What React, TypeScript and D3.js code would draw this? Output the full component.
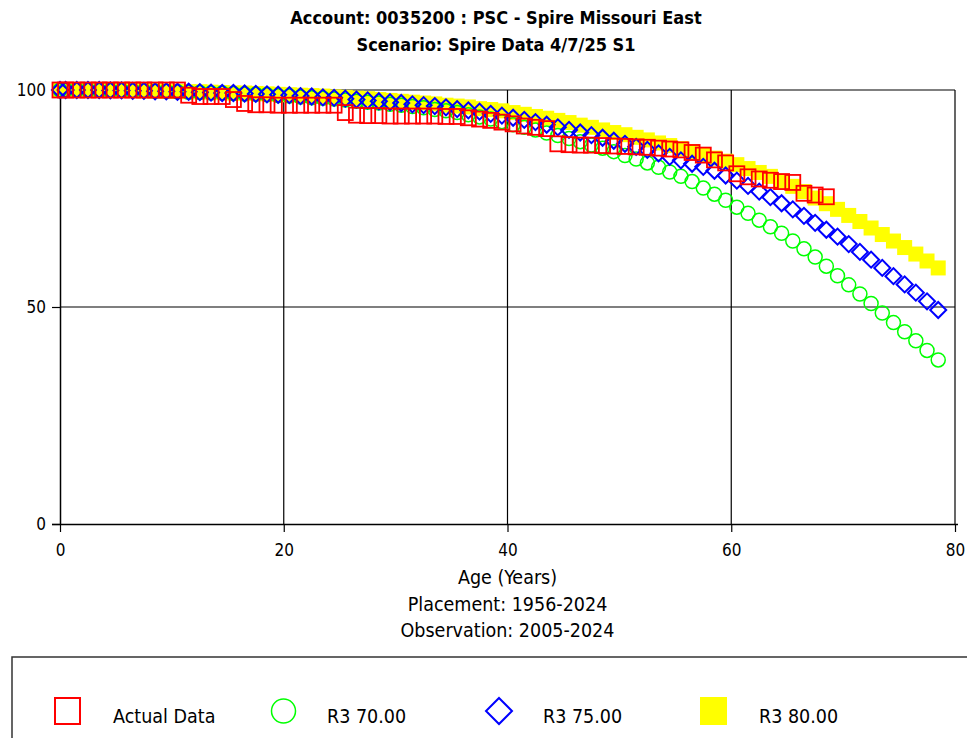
import React from 'react';
import * as d3 from 'd3';

const curveAges = [0, 0.5, 1.5, 2.5, 3.5, 4.5, 5.5, 6.5, 7.5, 8.5, 9.5, 10.5, 11.5, 12.5, 13.5, 14.5, 15.5, 16.5, 17.5, 18.5, 19.5,
  20.5, 21.5, 22.5, 23.5, 24.5, 25.5, 26.5, 27.5, 28.5, 29.5, 30.5, 31.5, 32.5, 33.5, 34.5, 35.5, 36.5, 37.5, 38.5, 39.5,
  40.5, 41.5, 42.5, 43.5, 44.5, 45.5, 46.5, 47.5, 48.5, 49.5, 50.5, 51.5, 52.5, 53.5, 54.5, 55.5, 56.5, 57.5, 58.5, 59.5,
  60.5, 61.5, 62.5, 63.5, 64.5, 65.5, 66.5, 67.5, 68.5, 69.5, 70.5, 71.5, 72.5, 73.5, 74.5, 75.5, 76.5, 77.5, 78.5];

const r3_70 = [100, 100, 100, 100, 99.9, 99.9, 99.9, 99.8, 99.8, 99.7, 99.7, 99.6, 99.5, 99.4, 99.3, 99.3, 99.2, 99.1, 99.0, 98.9, 98.7,
  98.6, 98.4, 98.2, 98.1, 97.9, 97.7, 97.4, 97.2, 97.0, 96.7, 96.5, 96.2, 95.9, 95.5, 95.2, 94.8, 94.3, 93.8, 93.3, 92.7,
  92.0, 91.4, 90.8, 90.1, 89.5, 88.8, 88.1, 87.3, 86.6, 85.8, 84.9, 84.1, 83.2, 82.2, 81.1, 80.1, 78.9, 77.4, 76.0, 74.6,
  73.0, 71.6, 70.0, 68.5, 67.0, 65.2, 63.4, 61.5, 59.4, 57.2, 55.1, 53.0, 50.8, 48.6, 46.4, 44.3, 42.2, 40.0, 37.8];

const r3_75 = [100, 100, 100, 100, 100, 99.9, 99.9, 99.8, 99.8, 99.7, 99.7, 99.6, 99.6, 99.5, 99.4, 99.3, 99.3, 99.2, 99.1, 99.0, 98.9,
  98.8, 98.6, 98.5, 98.3, 98.2, 98.0, 97.8, 97.6, 97.4, 97.2, 97.0, 96.7, 96.5, 96.3, 96.0, 95.6, 95.3, 95.0, 94.5, 94.1,
  93.6, 93.1, 92.6, 92.0, 91.4, 90.8, 90.2, 89.6, 89.0, 88.3, 87.6, 86.9, 86.2, 85.4, 84.6, 83.8, 83.0, 82.3, 81.4, 80.3,
  79.1, 77.9, 76.6, 75.3, 73.9, 72.5, 71.0, 69.4, 67.8, 66.2, 64.5, 62.7, 60.9, 59.0, 57.1, 55.2, 53.3, 51.3, 49.3];

const r3_80 = [100, 100, 100, 100, 100, 99.9, 99.9, 99.9, 99.8, 99.8, 99.7, 99.7, 99.6, 99.6, 99.5, 99.4, 99.3, 99.3, 99.2, 99.1, 99.0,
  98.9, 98.8, 98.7, 98.6, 98.4, 98.3, 98.1, 98.0, 97.8, 97.6, 97.4, 97.2, 97.0, 96.8, 96.5, 96.3, 96.1, 95.7, 95.5, 95.2,
  94.8, 94.4, 93.9, 93.5, 93.0, 92.5, 91.9, 91.4, 90.8, 90.2, 89.7, 89.1, 88.5, 87.8, 87.2, 86.5, 85.8, 85.1, 84.3, 83.6,
  82.8, 81.9, 81.0, 80.1, 79.0, 77.8, 76.6, 75.1, 73.8, 72.5, 71.1, 69.7, 68.2, 66.7, 65.2, 63.7, 62.2, 60.6, 59.0];

const actualAges = [0, 0.5, 1.5, 2.5, 3.5, 4.5, 5.5, 6.5, 7.5, 8.5, 9.5, 10.5, 11.5, 12.5, 13.5, 14.5, 15.5, 16.5, 17.5, 18.5, 19.5,
  20.5, 21.5, 22.5, 23.5, 24.5, 25.5, 26.5, 27.5, 28.5, 29.5, 30.5, 31.5, 32.5, 33.5, 34.5, 35.5, 36.5, 37.5, 38.5, 39.5,
  40.5, 41.5, 42.5, 43.5, 44.5, 45.5, 46.5, 47.5, 48.5, 49.5, 50.5, 51.5, 52.5, 53.5, 54.5, 55.5, 56.5, 57.5, 58.5, 59.5,
  60.5, 61.5, 62.5, 63.5, 64.5, 65.5, 66.5, 67.5, 68.5];

const actualData = [100, 100, 100, 100, 100, 100, 100, 100, 100, 100, 100, 100, 98.8, 98.5, 98.5, 98.5, 97.8, 96.9, 96.6, 96.6, 96.5,
  96.5, 96.5, 96.5, 96.5, 96.5, 94.8, 94.2, 94.1, 94.1, 94.0, 94.0, 94.0, 94.0, 94.0, 93.9, 93.9, 93.6, 93.3, 93.0, 92.6,
  92.2, 91.7, 91.4, 91.1, 87.6, 87.4, 87.3, 87.3, 87.2, 87.1, 87.0, 86.9, 86.8, 86.6, 86.4, 86.2, 85.6, 85.0, 83.9, 83.2,
  80.7, 80.0, 79.5, 79.2, 78.9, 78.7, 76.2, 75.8, 75.4];

const xTicks = [0, 20, 40, 60, 80];
const yTicks = [0, 50, 100];
const titleLines = ['Account: 0035200 : PSC - Spire Missouri East', 'Scenario: Spire Data 4/7/25 S1'];
const xLabels = ['Age (Years)', 'Placement: 1956-2024', 'Observation: 2005-2024'];
const legendItems = ['Actual Data', 'R3 70.00', 'R3 75.00', 'R3 80.00'];

const FONT = 'Tahoma, "DejaVu Sans Condensed", "DejaVu Sans", sans-serif';

export default function App() {
  const ref = React.useRef<SVGSVGElement>(null);

  React.useEffect(() => {
    if (!ref.current) return;
    const width = 967, height = 738;
    const m = { left: 60, right: 955, top: 90, bottom: 524 };
    const x = d3.scaleLinear().domain([0, 80]).range([m.left, m.right]);
    const y = d3.scaleLinear().domain([0, 100]).range([m.bottom, m.top]);

    const svg = d3.select(ref.current);
    svg.selectAll('*').remove();
    svg.attr('width', width).attr('height', height).attr('viewBox', `0 0 ${width} ${height}`);
    svg.append('rect').attr('width', width).attr('height', height).attr('fill', '#fff');

    // titles
    svg.selectAll('text.title').data(titleLines).enter().append('text')
      .attr('class', 'title')
      .attr('x', 496).attr('y', (_d, i) => 24 + i * 27)
      .attr('text-anchor', 'middle')
      .attr('font-family', FONT).attr('font-weight', 'bold').attr('font-size', '18px')
      .attr('fill', '#000')
      .text(d => d);

    // grid + frame
    const g = svg.append('g');
    g.selectAll('line.vg').data(xTicks.slice(1)).enter().append('line')
      .attr('x1', d => x(d)).attr('x2', d => x(d))
      .attr('y1', y(100)).attr('y2', y(0))
      .attr('stroke', '#000').attr('stroke-width', 1.2);
    g.selectAll('line.hg').data([50, 100]).enter().append('line')
      .attr('x1', x(0)).attr('x2', x(80))
      .attr('y1', d => y(d)).attr('y2', d => y(d))
      .attr('stroke', '#000').attr('stroke-width', 1.2);

    // axes
    const xAxis = svg.append('g').attr('transform', `translate(0,${y(0)})`)
      .call(d3.axisBottom(x).tickValues(xTicks).tickSize(8).tickPadding(12).tickFormat(d3.format('d')));
    xAxis.select('.domain').attr('d', `M${x(0) - 8},0.5H${x(80) + 3}`).attr('stroke', '#000').attr('stroke-width', 1.5);
    const yAxis = svg.append('g').attr('transform', `translate(${x(0)},0)`)
      .call(d3.axisLeft(y).tickValues(yTicks).tickSize(8).tickPadding(6).tickFormat(d3.format('d')));
    yAxis.select('.domain').attr('d', `M0.5,${y(100)}V${y(0)}`).attr('stroke', '#000').attr('stroke-width', 1.5);
    svg.selectAll('.tick line').attr('stroke', '#000').attr('stroke-width', 1.2);
    svg.selectAll('.tick text').attr('font-family', FONT).attr('font-size', '17px').attr('fill', '#000');

    // markers
    const yellow = curveAges.map((a, i) => [a, r3_80[i]]);
    const green = curveAges.map((a, i) => [a, r3_70[i]]);
    const blue = curveAges.map((a, i) => [a, r3_75[i]]);
    const red = actualAges.map((a, i) => [a, actualData[i]]);

    svg.append('g').selectAll('rect').data(yellow).enter().append('rect')
      .attr('x', d => x(d[0]) - 7.5).attr('y', d => y(d[1]) - 7.5)
      .attr('width', 15).attr('height', 15).attr('fill', '#ffff00');
    svg.append('g').selectAll('circle').data(green).enter().append('circle')
      .attr('cx', d => x(d[0])).attr('cy', d => y(d[1])).attr('r', 7)
      .attr('fill', 'none').attr('stroke', '#00ff00').attr('stroke-width', 1.5);
    const diamond = d3.symbol().type(d3.symbolSquare).size(128);
    svg.append('g').selectAll('path').data(blue).enter().append('path')
      .attr('d', diamond)
      .attr('transform', d => `translate(${x(d[0])},${y(d[1])}) rotate(45)`)
      .attr('fill', 'none').attr('stroke', '#0000ff').attr('stroke-width', 2);
    svg.append('g').selectAll('rect').data(red).enter().append('rect')
      .attr('x', d => x(d[0]) - 7.5).attr('y', d => y(d[1]) - 7.5)
      .attr('width', 15).attr('height', 15)
      .attr('fill', 'none').attr('stroke', '#ff0000').attr('stroke-width', 1.8);

    // x labels
    svg.selectAll('text.xl').data(xLabels).enter().append('text')
      .attr('class', 'xl')
      .attr('x', (m.left + m.right) / 2).attr('y', (_d, i) => 584 + i * 26.5)
      .attr('text-anchor', 'middle')
      .attr('font-family', FONT).attr('font-size', '19.5px').attr('fill', '#000')
      .text(d => d);

    // legend
    svg.append('rect').attr('x', 12).attr('y', 657).attr('width', 970).attr('height', 100)
      .attr('fill', 'none').attr('stroke', '#333').attr('stroke-width', 1.5);
    const lg = svg.append('g');
    const cy = 711;
    lg.append('rect').attr('x', 55).attr('y', cy - 13).attr('width', 25).attr('height', 26)
      .attr('fill', 'none').attr('stroke', '#ff0000').attr('stroke-width', 2);
    lg.append('ellipse').attr('cx', 283.5).attr('cy', cy).attr('rx', 12).attr('ry', 12)
      .attr('fill', 'none').attr('stroke', '#00ff00').attr('stroke-width', 1.5);
    lg.append('path')
      .attr('d', `M499,${cy - 13}L512,${cy}L499,${cy + 13}L486,${cy}Z`)
      .attr('fill', 'none').attr('stroke', '#0000ff').attr('stroke-width', 2);
    lg.append('rect').attr('x', 700).attr('y', cy - 14).attr('width', 27).attr('height', 28)
      .attr('fill', '#ffff00');
    const textX = [113, 327, 543, 759];
    lg.selectAll('text').data(legendItems).enter().append('text')
      .attr('x', (_d, i) => textX[i]).attr('y', 723)
      .attr('font-family', FONT).attr('font-size', '19.5px').attr('fill', '#000')
      .text(d => d);
  }, []);

  return (
    <>
      <style>{'body{margin:0}'}</style>
      <svg ref={ref} style={{ display: 'block' }} />
    </>
  );
}
